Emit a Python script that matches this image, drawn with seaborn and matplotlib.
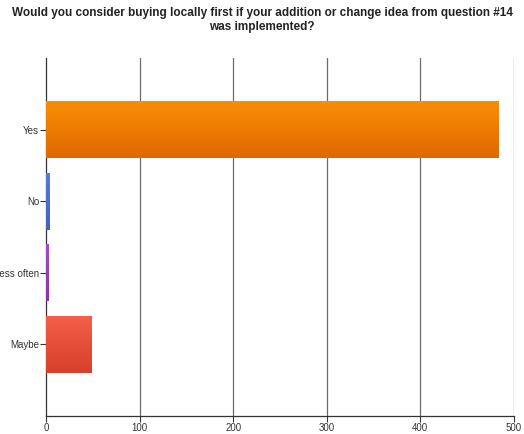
import matplotlib
matplotlib.use("Agg")
import matplotlib.pyplot as plt
from matplotlib.colors import LinearSegmentedColormap, to_rgb
import numpy as np
import seaborn as sns
import pandas as pd

categories = ["Yes", "No", "Less often", "Maybe"]
values = [483, 4, 3, 49]
colors_top = ["#FA8E05", "#5580D4", "#A84ACB", "#F4604A"]
colors_bottom = ["#E06800", "#3F63B8", "#8A32AE", "#D8402A"]
xticks = [0, 100, 200, 300, 400, 500]
title = "Would you consider buying locally first if your addition or change idea from question #14\nwas implemented?"

sns.set_theme(style="white")
plt.rcParams["font.family"] = ["Liberation Sans", "DejaVu Sans"]

df = pd.DataFrame({"answer": categories, "count": values})

fig = plt.figure(figsize=(5.24, 4.34), dpi=100)
ax = fig.add_axes([0.0878, 0.0415, 0.893, 0.8245])

sns.barplot(data=df, y="answer", x="count", hue="answer", palette=colors_top,
            order=categories, orient="h", width=0.8, legend=False, ax=ax,
            saturation=1, zorder=3, linewidth=0)

ax.set_xlim(0, 500)
ax.set_ylim(4, -1)

# vertical gradient fill for each bar, clipped to the bar patch
for patch, ct, cb in zip(ax.patches, colors_top, colors_bottom):
    x0, y0 = patch.get_x(), patch.get_y()
    w, h = patch.get_width(), patch.get_height()
    cmap = LinearSegmentedColormap.from_list("g", [to_rgb(ct), to_rgb(cb)])
    grad = np.linspace(0, 1, 64).reshape(-1, 1)
    im = ax.imshow(grad, cmap=cmap, aspect="auto", extent=(x0, x0 + w, y0 + h, y0),
                   origin="upper", zorder=4, interpolation="bilinear")
    im.set_clip_path(patch)

ax.set_xlim(0, 500)
ax.set_ylim(4, -1)
ax.set_aspect("auto")
ax.set_xticks(xticks)
ax.set_xticklabels([str(t) for t in xticks])
for t in xticks[1:]:
    ax.axvline(t, color="#6a6a6a", lw=0.9, zorder=1)
for s in ["top", "right"]:
    ax.spines[s].set_visible(False)
ax.spines["left"].set_color("#333333")
ax.spines["bottom"].set_color("#333333")
ax.spines["left"].set_linewidth(0.9)
ax.spines["bottom"].set_linewidth(0.9)
ax.tick_params(axis="both", which="both", length=4, width=0.8, color="#333333",
               labelsize=7, labelcolor="#333333", left=True, bottom=True, pad=1)
ax.set_xlabel("")
ax.set_ylabel("")

fig.text(0.5, 0.985, title, ha="center", va="top", fontsize=8.5,
         fontweight="bold", color="#222222", linespacing=1.3)

fig.savefig("out.png", dpi=100)
